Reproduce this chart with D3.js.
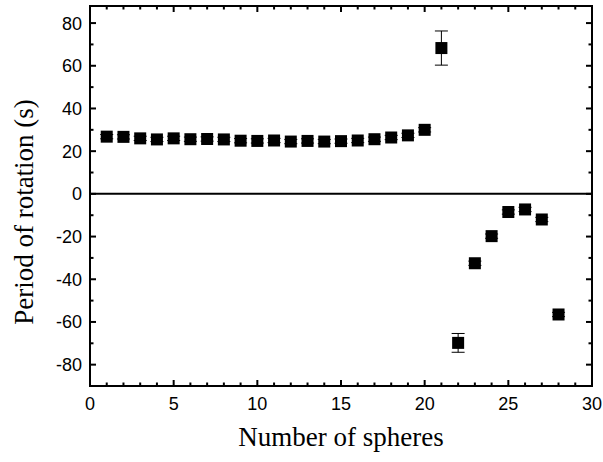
<!DOCTYPE html>
<html><head><meta charset="utf-8">
<script src="https://cdn.jsdelivr.net/npm/d3@7"></script>
<style>body{margin:0;background:#fff}</style>
</head><body>
<svg id="c" width="603" height="462"></svg>
<script>
const spheres = [1,2,3,4,5,6,7,8,9,10,11,12,13,14,15,16,17,18,19,20,21,22,23,24,25,26,27,28];
const period  = [26.8,26.7,26.0,25.5,26.0,25.6,25.7,25.5,24.9,24.8,25.0,24.5,24.8,24.5,24.7,25.0,25.6,26.4,27.4,30.0,68.3,-69.8,-32.5,-19.8,-8.5,-7.3,-12.0,-56.5];
const errs    = [1,1,1,1,1,1,1,1,1,1,1,1,1,1,1,1,1,1,1,1,8,4.4,1,1,1,1,1,1];
const xTicks = [0,5,10,15,20,25,30];
const yTicks = [-80,-60,-40,-20,0,20,40,60,80];

const svg = d3.select("#c");
const L = 90, R = 592, T = 6, B = 386;
const x = d3.scaleLinear().domain([0,30]).range([L,R]);
const y = d3.scaleLinear().domain([-90,88]).range([B,T]);
const sans = "Liberation Sans, Arial, sans-serif";
const serif = "Liberation Serif, Times New Roman, serif";

// frame
svg.append("rect").attr("x",L).attr("y",T).attr("width",R-L).attr("height",B-T)
  .attr("fill","none").attr("stroke","#000").attr("stroke-width",2);

// zero line
svg.append("line").attr("x1",L).attr("x2",R).attr("y1",y(0)).attr("y2",y(0))
  .attr("stroke","#000").attr("stroke-width",2);

// x ticks (bottom & top)
d3.range(1,30).forEach(v=>{
  const len = v%5===0?6:3.5;
  svg.append("line").attr("x1",x(v)).attr("x2",x(v)).attr("y1",B).attr("y2",B-len).attr("stroke","#000").attr("stroke-width",2);
  svg.append("line").attr("x1",x(v)).attr("x2",x(v)).attr("y1",T).attr("y2",T+len).attr("stroke","#000").attr("stroke-width",2);
});
// y ticks left & right
d3.range(-80,81,10).forEach(v=>{
  const len = v%20===0?6:3.5;
  svg.append("line").attr("x1",L).attr("x2",L+len).attr("y1",y(v)).attr("y2",y(v)).attr("stroke","#000").attr("stroke-width",2);
  svg.append("line").attr("x1",R).attr("x2",R-len).attr("y1",y(v)).attr("y2",y(v)).attr("stroke","#000").attr("stroke-width",2);
});

// tick labels
svg.selectAll(".xl").data(xTicks).enter().append("text")
  .attr("x",d=>x(d)).attr("y",B+24).attr("text-anchor","middle")
  .attr("font-family",sans).attr("font-size",18).text(d=>d);
svg.selectAll(".yl").data(yTicks).enter().append("text")
  .attr("x",L-8).attr("y",d=>y(d)+6.5).attr("text-anchor","end")
  .attr("font-family",sans).attr("font-size",18).text(d=>d);

// axis titles
svg.append("text").attr("x",(L+R)/2).attr("y",446).attr("text-anchor","middle")
  .attr("font-family",serif).attr("font-size",27).text("Number of spheres");
svg.append("text").attr("transform",`translate(33,212) rotate(-90)`).attr("text-anchor","middle")
  .attr("font-family",serif).attr("font-size",27).text("Period of rotation (s)");

// error bars
const data = spheres.map((s,i)=>({s,p:period[i],e:errs[i]}));
const eb = svg.append("g");
data.forEach(d=>{
  eb.append("line").attr("x1",x(d.s)).attr("x2",x(d.s)).attr("y1",y(d.p-d.e)).attr("y2",y(d.p+d.e)).attr("stroke","#000").attr("stroke-width",1);
  [d.p-d.e,d.p+d.e].forEach(v=>eb.append("line").attr("x1",x(d.s)-6.5).attr("x2",x(d.s)+6.5).attr("y1",y(v)).attr("y2",y(v)).attr("stroke","#000").attr("stroke-width",1));
});
// markers
const sz = 12;
svg.selectAll(".pt").data(data).enter().append("rect")
  .attr("x",d=>x(d.s)-sz/2).attr("y",d=>y(d.p)-sz/2).attr("width",sz).attr("height",sz).attr("fill","#000");
</script>
</body></html>
